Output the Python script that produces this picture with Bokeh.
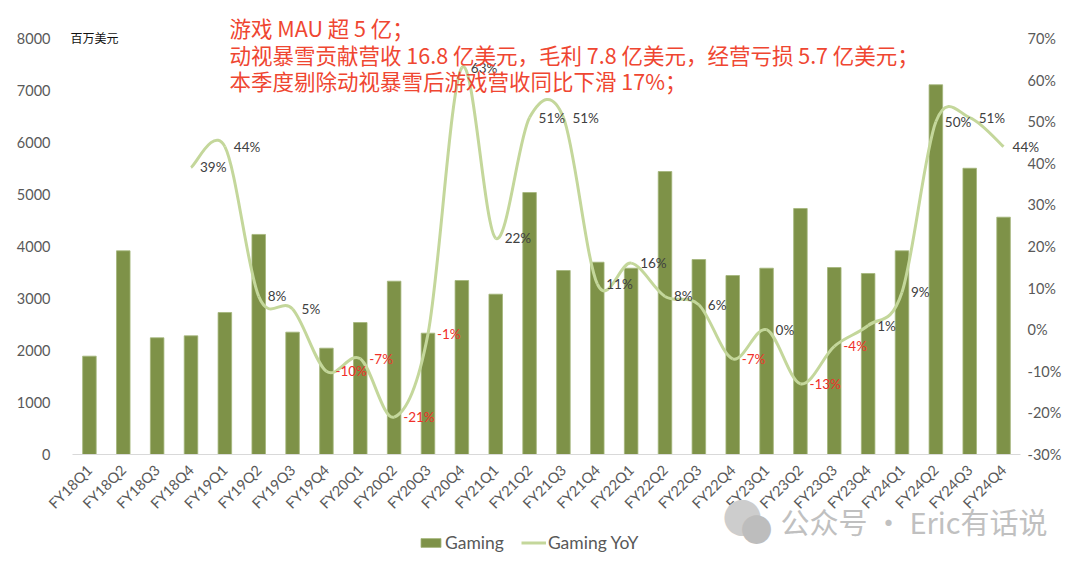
import math
from bokeh.plotting import figure
from bokeh.models import (Range1d, LinearAxis, FixedTicker, NumeralTickFormatter,
                          Label, Legend, LegendItem, ColumnDataSource)
from bokeh.core.properties import value
from bokeh.embed import file_html
from bokeh.resources import INLINE

quarters = ["FY18Q1", "FY18Q2", "FY18Q3", "FY18Q4", "FY19Q1", "FY19Q2", "FY19Q3", "FY19Q4",
            "FY20Q1", "FY20Q2", "FY20Q3", "FY20Q4", "FY21Q1", "FY21Q2", "FY21Q3", "FY21Q4",
            "FY22Q1", "FY22Q2", "FY22Q3", "FY22Q4", "FY23Q1", "FY23Q2", "FY23Q3", "FY23Q4",
            "FY24Q1", "FY24Q2", "FY24Q3", "FY24Q4"]
gaming = [1891, 3917, 2244, 2282, 2731, 4232, 2353, 2045,
          2538, 3333, 2333, 3346, 3083, 5038, 3538, 3698,
          3583, 5442, 3750, 3442, 3583, 4731, 3596, 3481,
          3917, 7110, 5505, 4564]
gaming_yoy = [None, None, None, 0.39, 0.44, 0.08, 0.05, -0.10,
              -0.07, -0.21, -0.01, 0.63, 0.22, 0.51, 0.51, 0.11,
              0.16, 0.08, 0.06, -0.07, 0.00, -0.13, -0.04, 0.01,
              0.09, 0.50, 0.51, 0.44]
left_ticks = [0, 1000, 2000, 3000, 4000, 5000, 6000, 7000, 8000]
right_ticks = [-0.3, -0.2, -0.1, 0.0, 0.1, 0.2, 0.3, 0.4, 0.5, 0.6, 0.7]
unit_text = "百万美元"
note_lines = ["游戏 MAU 超 5 亿；",
              "动视暴雪贡献营收 16.8 亿美元，毛利 7.8 亿美元，经营亏损 5.7 亿美元；",
              "本季度剔除动视暴雪后游戏营收同比下滑 17%；"]
watermark = "公众号 · Eric有话说"

BAR = "#7e9248"
LINE = "#c4d79b"
GREY = "#595959"
RED_NOTE = "#ef4631"
RED_LBL = "#f0302a"
NUM_FONT = "Lato"
CJK = "Noto Sans CJK SC"

# canvas layout (pixels): plot area x 72..1020, y 38..454 on a 1080x564 canvas
W, H = 1080, 564
FL, FR, FT, FB = 72, 1020, 38, 454
N = len(quarters)
xpx = (FR - FL) / N
x_start = -FL / xpx
x_end = N + (W - FR) / xpx
ypx = (FB - FT) / (left_ticks[-1] - left_ticks[0])
y_start = -(H - FB) / ypx
y_end = left_ticks[-1] + FT / ypx
rpx = (FB - FT) / (right_ticks[-1] - right_ticks[0])
r_start = right_ticks[0] - (H - FB) / rpx
r_end = right_ticks[-1] + FT / rpx

p = figure(width=W, height=H, x_range=Range1d(x_start, x_end), y_range=Range1d(y_start, y_end),
           output_backend="svg", toolbar_location=None,
           min_border_left=0, min_border_right=0, min_border_top=0, min_border_bottom=0)
p.extra_y_ranges = {"yoy": Range1d(r_start, r_end)}
p.outline_line_color = None
p.xgrid.visible = False
p.ygrid.visible = False
p.background_fill_color = "white"
p.border_fill_color = "white"

xs = [i + 0.5 for i in range(N)]

# bars
bars = p.vbar(x=xs, top=gaming, width=0.4, fill_color=BAR, line_color="#a3b57a", line_width=0.8)

# smooth YoY line (Excel-like smoothing through the data points)
pts = [(i + 0.5, v) for i, v in enumerate(gaming_yoy) if v is not None]
n = len(pts)
x0, y0, x1, y1, cx0, cy0, cx1, cy1 = [], [], [], [], [], [], [], []
for k in range(n - 1):
    pa = pts[k - 1] if k > 0 else pts[k]
    pb = pts[k]
    pc = pts[k + 1]
    pd = pts[k + 2] if k + 2 < n else pts[k + 1]
    x0.append(pb[0]); y0.append(pb[1])
    x1.append(pc[0]); y1.append(pc[1])
    cx0.append(pb[0] + (pc[0] - pa[0]) / 6); cy0.append(pb[1] + (pc[1] - pa[1]) / 6)
    cx1.append(pc[0] - (pd[0] - pb[0]) / 6); cy1.append(pc[1] - (pd[1] - pb[1]) / 6)
p.bezier(x0=x0, y0=y0, x1=x1, y1=y1, cx0=cx0, cy0=cy0, cx1=cx1, cy1=cy1,
         line_color=LINE, line_width=3, y_range_name="yoy")
legend_line = p.line(x=[float("nan")], y=[float("nan")], line_color=LINE, line_width=3,
                     y_range_name="yoy")

# data labels
lx = [i + 0.5 for i, v in enumerate(gaming_yoy) if v is not None]
ly = [v for v in gaming_yoy if v is not None]
lt = ["%d%%" % round(v * 100) for v in ly]
lc = [RED_LBL if v < 0 else "#404040" for v in ly]
src = ColumnDataSource(dict(x=lx, y=ly, t=lt, c=lc))
p.text(x="x", y="y", text="t", text_color="c", source=src, y_range_name="yoy",
       x_offset=9, text_align="left", text_baseline="middle",
       text_font=value(NUM_FONT), text_font_size="13.5px")

# axes
p.yaxis.fixed_location = 0
p.yaxis.ticker = FixedTicker(ticks=left_ticks)
p.yaxis.formatter = NumeralTickFormatter(format="0")
p.yaxis.axis_line_color = None
p.yaxis.major_tick_line_color = None
p.yaxis.minor_tick_line_color = None
p.yaxis.major_tick_out = 0
p.yaxis.major_tick_in = 0
p.yaxis.major_label_standoff = 22
p.yaxis.major_label_text_font = NUM_FONT
p.yaxis.major_label_text_font_size = "14.5px"
p.yaxis.major_label_text_color = GREY

ra = LinearAxis(y_range_name="yoy", ticker=FixedTicker(ticks=right_ticks),
                formatter=NumeralTickFormatter(format="0%"), fixed_location=N)
ra.axis_line_color = None
ra.major_tick_line_color = None
ra.minor_tick_line_color = None
ra.major_tick_out = 0
ra.major_tick_in = 0
ra.major_label_standoff = 7
ra.major_label_text_font = NUM_FONT
ra.major_label_text_font_size = "14.5px"
ra.major_label_text_color = GREY
p.add_layout(ra, "right")

overrides = {}
for x, q in zip(xs, quarters):
    overrides[x] = q
p.xaxis.fixed_location = 0
p.xaxis.bounds = (0, N)
p.xaxis.ticker = FixedTicker(ticks=xs)
p.xaxis.major_label_overrides = overrides
p.xaxis.axis_line_color = "#d9d9d9"
p.xaxis.major_tick_line_color = None
p.xaxis.minor_tick_line_color = None
p.xaxis.major_tick_out = 0
p.xaxis.major_tick_in = 0
p.xaxis.major_label_orientation = math.pi / 4
p.xaxis.major_label_standoff = 13
p.xaxis.major_label_text_font = NUM_FONT
p.xaxis.major_label_text_font_size = "14.5px"
p.xaxis.major_label_text_color = GREY

# annotations (positions in data units of the primary axes)
def px_to_x(px):
    return x_start + px / xpx

def py_to_y(py):
    return y_end - py / ypx

p.add_layout(Label(x=px_to_x(70), y=py_to_y(37), text=unit_text, text_font=CJK,
                   text_font_size="12px", text_color="#111111", text_baseline="middle"))
for i, line in enumerate(note_lines):
    p.add_layout(Label(x=px_to_x(229), y=py_to_y(27 + i * 26.5), text=line, text_font=CJK,
                       text_font_size="21.5px", text_color=RED_NOTE, text_baseline="middle"))

p.add_layout(Label(x=px_to_x(722), y=py_to_y(515), text="●", text_font=CJK, text_font_size="40px",
                   text_color="#cdcdcd", text_baseline="middle"))
p.add_layout(Label(x=px_to_x(740), y=py_to_y(527), text="●", text_font=CJK, text_font_size="32px",
                   text_color="#bdbdbd", text_baseline="middle"))
p.add_layout(Label(x=px_to_x(780), y=py_to_y(520), text=watermark, text_font=CJK,
                   text_font_size="29px", text_color="#c0c0c0", text_baseline="middle"))

legend = Legend(items=[LegendItem(label="Gaming", renderers=[bars]),
                       LegendItem(label="Gaming YoY", renderers=[legend_line])],
                orientation="horizontal", location=(418, 11))
legend.border_line_color = None
legend.background_fill_alpha = 0
legend.label_text_font = NUM_FONT
legend.label_text_font_size = "17.5px"
legend.label_text_color = GREY
legend.glyph_width = 25
legend.glyph_height = 11
legend.label_standoff = 2
legend.spacing = 17
legend.padding = 0
legend.margin = 0
p.add_layout(legend)

open("out.html", "w").write(file_html(p, INLINE))
